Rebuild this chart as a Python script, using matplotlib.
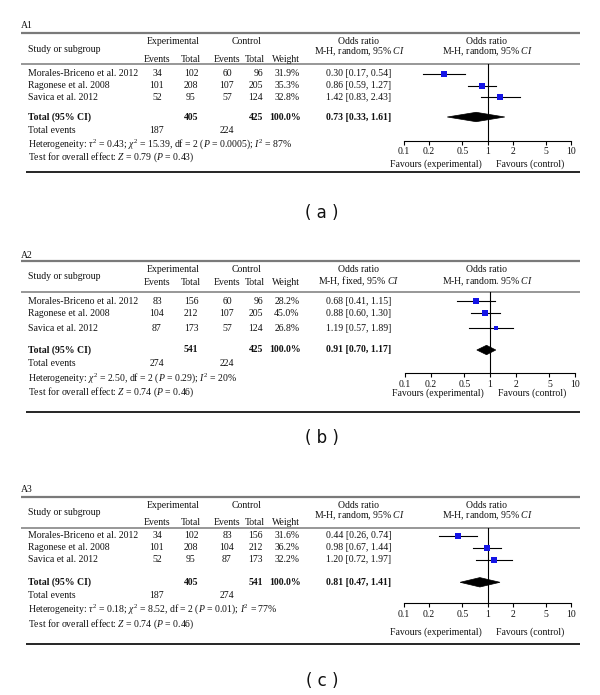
import matplotlib
matplotlib.use("Agg")
import matplotlib.pyplot as plt
from matplotlib.patches import Polygon
import numpy as np

plt.rcParams['font.family'] = ['Liberation Serif', 'DejaVu Serif']
plt.rcParams['mathtext.fontset'] = 'custom'
plt.rcParams['mathtext.rm'] = 'Liberation Serif'
plt.rcParams['mathtext.it'] = 'Liberation Serif:italic'
plt.rcParams['mathtext.bf'] = 'Liberation Serif:bold'

# ---------------- data ----------------
studies = ["Morales-Briceno et al. 2012", "Ragonese et al. 2008", "Savica et al. 2012"]
panel_names = ["A1", "A2", "A3"]
captions = ["( a )", "( b )", "( c )"]

a1_exp_events = [34, 101, 52]
a1_exp_total = [102, 208, 95]
a1_ctl_events = [60, 107, 57]
a1_ctl_total = [96, 205, 124]
a1_weight = [31.9, 35.3, 32.8]
a1_or = [0.30, 0.86, 1.42]
a1_lo = [0.17, 0.59, 0.83]
a1_hi = [0.54, 1.27, 2.43]
a1_total = [405, 425]
a1_total_events = [187, 224]
a1_pooled = [0.73, 0.33, 1.61]
a1_method_left = "M-H, random, 95% $CI$"
a1_method_right = "M-H, random, 95% $CI$"
a1_het = r"Heterogeneity: $\tau^2$ = 0.43; $\chi^2$ = 15.39, df = 2 ($P$ = 0.0005); $I^2$ = 87%"
a1_test = r"Test for overall effect: $Z$ = 0.79 ($P$ = 0.43)"

a2_exp_events = [83, 104, 87]
a2_exp_total = [156, 212, 173]
a2_ctl_events = [60, 107, 57]
a2_ctl_total = [96, 205, 124]
a2_weight = [28.2, 45.0, 26.8]
a2_or = [0.68, 0.88, 1.19]
a2_lo = [0.41, 0.60, 0.57]
a2_hi = [1.15, 1.30, 1.89]
a2_total = [541, 425]
a2_total_events = [274, 224]
a2_pooled = [0.91, 0.70, 1.17]
a2_method_left = "M-H, fixed, 95% $CI$"
a2_method_right = "M-H, random. 95% $CI$"
a2_het = r"Heterogeneity: $\chi^2$ = 2.50, df = 2 ($P$ = 0.29); $I^2$ = 20%"
a2_test = r"Test for overall effect: $Z$ = 0.74 ($P$ = 0.46)"

a3_exp_events = [34, 101, 52]
a3_exp_total = [102, 208, 95]
a3_ctl_events = [83, 104, 87]
a3_ctl_total = [156, 212, 173]
a3_weight = [31.6, 36.2, 32.2]
a3_or = [0.44, 0.98, 1.20]
a3_lo = [0.26, 0.67, 0.72]
a3_hi = [0.74, 1.44, 1.97]
a3_total = [405, 541]
a3_total_events = [187, 274]
a3_pooled = [0.81, 0.47, 1.41]
a3_method_left = "M-H, random, 95% $CI$"
a3_method_right = "M-H, random, 95% $CI$"
a3_het = r"Heterogeneity: $\tau^2$ = 0.18; $\chi^2$ = 8.52, df = 2 ($P$ = 0.01); $I^2$ = 77%"
a3_test = r"Test for overall effect: $Z$ = 0.74 ($P$ = 0.46)"

axis_ticks = [0.1, 0.2, 0.5, 1, 2, 5, 10]
axis_tick_labels = ["0.1", "0.2", "0.5", "1", "2", "5", "10"]
favours_left = "Favours (experimental)"
favours_right = "Favours (control)"

panels = [
    dict(ee=a1_exp_events, et=a1_exp_total, ce=a1_ctl_events, ct=a1_ctl_total, w=a1_weight,
         orr=a1_or, lo=a1_lo, hi=a1_hi, tot=a1_total, tev=a1_total_events, pooled=a1_pooled,
         ml=a1_method_left, mr=a1_method_right, het=a1_het, test=a1_test),
    dict(ee=a2_exp_events, et=a2_exp_total, ce=a2_ctl_events, ct=a2_ctl_total, w=a2_weight,
         orr=a2_or, lo=a2_lo, hi=a2_hi, tot=a2_total, tev=a2_total_events, pooled=a2_pooled,
         ml=a2_method_left, mr=a2_method_right, het=a2_het, test=a2_test),
    dict(ee=a3_exp_events, et=a3_exp_total, ce=a3_ctl_events, ct=a3_ctl_total, w=a3_weight,
         orr=a3_or, lo=a3_lo, hi=a3_hi, tot=a3_total, tev=a3_total_events, pooled=a3_pooled,
         ml=a3_method_left, mr=a3_method_right, het=a3_het, test=a3_test),
]

# ---------------- layout (pixel positions) ----------------
layouts = [
    dict(lab=26, top=33, exp=42, study=49, ev=59.3, hdr=64, or1=41.7, or2=51.7,
         rows=[74, 86, 97], total=117, tev=130.5, het=144, test=157,
         axis=141, fav=164, bottom=172, cap=213, ax0=404, ax1=571),
    dict(lab=255, top=261, exp=269.3, study=276.7, ev=282.7, hdr=291.7, or1=269.3, or2=281.7,
         rows=[301, 313.3, 328.3], total=350, tev=364, het=378, test=392,
         axis=373.3, fav=392.7, bottom=412, cap=438, ax0=405, ax1=575),
    dict(lab=489.3, top=496.7, exp=505, study=512.7, ev=522.7, hdr=528.3, or1=505, or2=515.7,
         rows=[535.7, 547.7, 560], total=582.3, tev=596, het=609.5, test=624,
         axis=603.3, fav=631.7, bottom=644, cap=681, ax0=404, ax1=571),
]

W, H = 600, 695
FS = 7.0
fig = plt.figure(figsize=(W / 100, H / 100), dpi=100)
bg = fig.add_axes([0, 0, 1, 1])
bg.set_xlim(0, W)
bg.set_ylim(H, 0)
bg.axis('off')


def T(x, y, s, ha='left', fs=FS, **kw):
    bg.text(x, y, s, ha=ha, va='center', fontsize=fs, color='#111111', **kw)


X_STUDY = 28.5
X_EE, X_ET, X_CE = 157, 191, 227
X_CT_R, X_W_R = 263, 299.5
X_OR = 359
X_RIGHT_HDR = 487
LINE_L, LINE_R = 20.5, 579.5
SQ_COLOR = '#1414e6'

for name, cap, d, L in zip(panel_names, captions, panels, layouts):
    T(20.5, L['lab'], name)
    bg.plot([LINE_L, LINE_R], [L['top'], L['top']], color='#7a7a7a', lw=1.6, solid_capstyle='butt')
    bg.plot([LINE_L, LINE_R], [L['hdr'], L['hdr']], color='#7a7a7a', lw=1.1, solid_capstyle='butt')
    bg.plot([26, 580], [L['bottom'], L['bottom']], color='black', lw=1.2, solid_capstyle='butt')

    T(X_STUDY, L['study'], "Study or subgroup")
    T(173, L['exp'], "Experimental", ha='center')
    T(247, L['exp'], "Control", ha='center')
    T(X_EE, L['ev'], "Events", ha='center')
    T(X_ET, L['ev'], "Total", ha='center')
    T(X_CE, L['ev'], "Events", ha='center')
    T(255, L['ev'], "Total", ha='center')
    T(X_W_R, L['ev'], "Weight", ha='right')
    T(X_OR, L['or1'], "Odds ratio", ha='center')
    T(X_OR, L['or2'], d['ml'], ha='center')
    T(X_RIGHT_HDR, L['or1'], "Odds ratio", ha='center')
    T(X_RIGHT_HDR, L['or2'], d['mr'], ha='center')

    for i, s in enumerate(studies):
        y = L['rows'][i]
        T(X_STUDY, y, s)
        T(X_EE, y, str(d['ee'][i]), ha='center')
        T(X_ET, y, str(d['et'][i]), ha='center')
        T(X_CE, y, str(d['ce'][i]), ha='center')
        T(X_CT_R, y, str(d['ct'][i]), ha='right')
        T(X_W_R, y, f"{d['w'][i]:.1f}%", ha='right')
        T(X_OR, y, f"{d['orr'][i]:.2f} [{d['lo'][i]:.2f}, {d['hi'][i]:.2f}]", ha='center')

    T(X_STUDY, L['total'], "Total (95% CI)", fontweight='bold')
    T(X_ET, L['total'], str(d['tot'][0]), ha='center', fontweight='bold')
    T(X_CT_R, L['total'], str(d['tot'][1]), ha='right', fontweight='bold')
    T(X_W_R + 1, L['total'], f"{sum(d['w']):.1f}%", ha='right', fontweight='bold')
    p = d['pooled']
    T(X_OR, L['total'], f"{p[0]:.2f} [{p[1]:.2f}, {p[2]:.2f}]", ha='center', fontweight='bold')

    T(X_STUDY, L['tev'], "Total events")
    T(X_EE, L['tev'], str(d['tev'][0]), ha='center')
    T(X_CE, L['tev'], str(d['tev'][1]), ha='center')
    T(X_STUDY, L['het'], d['het'])
    T(X_STUDY, L['test'], d['test'])

    T(322, L['cap'], cap, ha='center', fs=12, family='DejaVu Sans')

    # forest plot axes: x in log OR, y in pixel rows
    left = L['ax0'] / W
    width = (L['ax1'] - L['ax0']) / W
    bottom = 1 - L['axis'] / H
    height = (L['axis'] - L['hdr']) / H
    ax = fig.add_axes([left, bottom, width, height])
    ax.patch.set_alpha(0)
    ax.set_xscale('log')
    ax.set_xlim(0.1, 10)
    ax.set_ylim(L['axis'], L['hdr'])
    for sp in ['top', 'right', 'left']:
        ax.spines[sp].set_visible(False)
    ax.spines['bottom'].set_linewidth(0.8)
    ax.set_yticks([])
    ax.set_xticks(axis_ticks)
    ax.set_xticklabels(axis_tick_labels, fontsize=FS, color='#111111')
    ax.minorticks_off()
    ax.tick_params(axis='x', length=3, width=0.8, pad=1.5, direction='out')
    ax.axvline(1, color='black', lw=0.8)

    for i in range(len(studies)):
        y = L['rows'][i]
        ax.plot([d['lo'][i], d['hi'][i]], [y, y], color='black', lw=0.8)
        ax.plot([d['orr'][i]], [y], marker='s', linestyle='none', color=SQ_COLOR,
                markersize=0.68 * np.sqrt(d['w'][i]), markeredgewidth=0)

    yt = L['total']
    hh = 4.7
    dia = Polygon([[p[1], yt], [p[0], yt - hh], [p[2], yt], [p[0], yt + hh]],
                  closed=True, facecolor='black', edgecolor='black', lw=0.5)
    ax.add_patch(dia)

    xc = (L['ax0'] + L['ax1']) / 2
    T(xc - 6, L['fav'], favours_left, ha='right')
    T(xc + 8, L['fav'], favours_right, ha='left')

fig.savefig("out.png", dpi=100)
